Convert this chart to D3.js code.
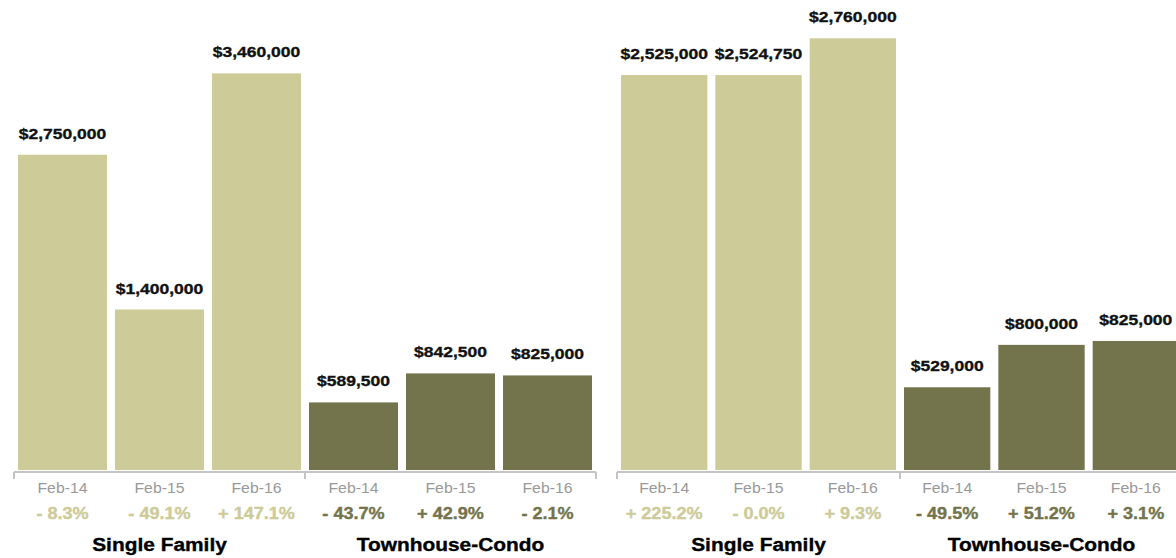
<!DOCTYPE html>
<html>
<head>
<meta charset="utf-8">
<script src="https://cdn.jsdelivr.net/npm/d3@7"></script>
<style>
  html, body { margin: 0; padding: 0; background: #fff; }
  svg { display: block; }
  text { font-family: "Liberation Sans", Arial, Helvetica, sans-serif; }
</style>
</head>
<body>
<svg id="chart" width="1176" height="558"></svg>
<script>
// Median sales price by property type, February of each year
const groups = ["Single Family", "Townhouse-Condo"];
const periods = ["Feb-14", "Feb-15", "Feb-16"];

// First market
const marketAValues = {
  "Single Family": [2750000, 1400000, 3460000],
  "Townhouse-Condo": [589500, 842500, 825000]
};
const marketAChanges = {
  "Single Family": [-8.3, -49.1, 147.1],
  "Townhouse-Condo": [-43.7, 42.9, -2.1]
};

// Second market
const marketBValues = {
  "Single Family": [2525000, 2524750, 2760000],
  "Townhouse-Condo": [529000, 800000, 825000]
};
const marketBChanges = {
  "Single Family": [225.2, -0.0, 9.3],
  "Townhouse-Condo": [-49.5, 51.2, 3.1]
};

const groupColors = { "Single Family": "#cdcb98", "Townhouse-Condo": "#73734c" };
const stretch = 1.13; // horizontal stretch applied to all lettering

const svg = d3.select("#chart");
const baseline = 470;
const money = d3.format("$,.0f");
const pct = v => ((v < 0 || Object.is(v, -0)) ? "- " : "+ ") + Math.abs(v).toFixed(1) + "%";

function label(sel, x, y, str, opts) {
  const g = sel.append("g").attr("transform", `translate(${x},${y}) scale(${stretch},1)`);
  const t = g.append("text")
    .attr("text-anchor", "middle")
    .attr("font-size", opts.size)
    .attr("font-weight", opts.weight || "normal")
    .attr("fill", opts.fill)
    .text(str);
  if (opts.weight === "bold") {
    t.attr("stroke", opts.fill).attr("stroke-width", 0.35);
  }
}

function panel(values, changes, xRange, yMax) {
  const g = svg.append("g");
  const cols = [];
  groups.forEach(gr => periods.forEach((p, i) => cols.push({
    key: gr + "|" + p, group: gr, period: p,
    value: values[gr][i], change: changes[gr][i]
  })));

  const step = (xRange[1] - xRange[0]) / cols.length;
  const inner = 8 / step;
  const x = d3.scaleBand().domain(cols.map(d => d.key))
    .range(xRange).paddingInner(inner).paddingOuter(inner / 2);
  const y = d3.scaleLinear().domain([0, yMax]).range([baseline, 0]);

  g.selectAll("rect.bar").data(cols).join("rect")
    .attr("class", "bar")
    .attr("x", d => x(d.key))
    .attr("width", x.bandwidth())
    .attr("y", d => y(d.value))
    .attr("height", d => baseline - y(d.value))
    .attr("fill", d => groupColors[d.group]);

  // group bracket axis
  const groupScale = d3.scaleBand().domain(groups).range(xRange);
  const axisY = baseline + 2;
  g.append("line")
    .attr("x1", xRange[0]).attr("x2", xRange[1])
    .attr("y1", axisY).attr("y2", axisY)
    .attr("stroke", "#c4c4c4").attr("stroke-width", 2);
  const ticks = groups.map(gr => groupScale(gr)).concat([xRange[1]]);
  g.selectAll("line.tick").data(ticks).join("line")
    .attr("class", "tick")
    .attr("x1", d => d).attr("x2", d => d)
    .attr("y1", axisY).attr("y2", axisY + 7)
    .attr("stroke", "#c4c4c4").attr("stroke-width", 2);

  cols.forEach(d => {
    const cx = x(d.key) + x.bandwidth() / 2;
    label(g, cx, y(d.value) - 16, money(d.value), { size: 15.5, weight: "bold", fill: "#111" });
    label(g, cx, 493, d.period, { size: 14, fill: "#999" });
    label(g, cx, 519, pct(d.change), { size: 16, weight: "bold", fill: groupColors[d.group] });
  });

  groups.forEach(gr => {
    label(g, groupScale(gr) + groupScale.bandwidth() / 2, 551, gr,
      { size: 18.5, weight: "bold", fill: "#000" });
  });
}

panel(marketAValues, marketAChanges, [14, 596], 4100000);
panel(marketBValues, marketBChanges, [617, 1183], 3005000);
</script>
</body>
</html>
